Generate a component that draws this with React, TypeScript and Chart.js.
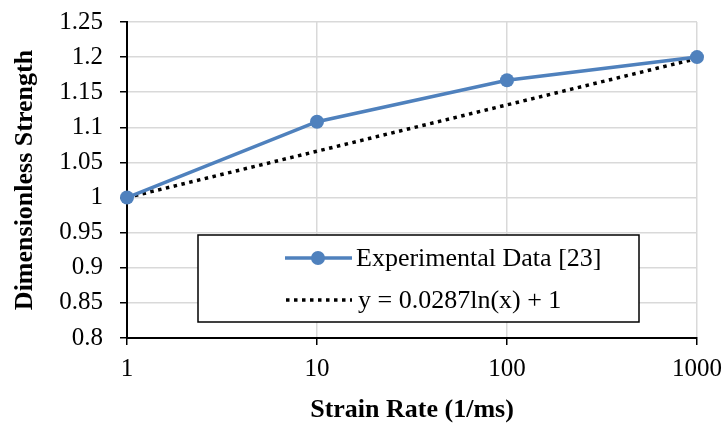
import React, { useEffect, useRef } from "react";
import { Chart, registerables } from "chart.js";

Chart.register(...registerables);

const strainRates = [1, 10, 100, 1000];
const experimental = [1.0, 1.108, 1.167, 1.2];
const trendValues = [1.0, 1.066, 1.132, 1.198];
const xTickValues = [1, 10, 100, 1000];
const expLabel = "Experimental Data [23]";
const trendLabel = "y = 0.0287ln(x) + 1";

const BLUE = "#4F81BD";
const SERIF = "'Liberation Serif', 'Times New Roman', serif";

const legendBoxPlugin = {
  id: "legendBox",
  afterDraw(chart: any) {
    const ctx = chart.ctx;
    ctx.save();
    const x0 = 198, y0 = 235, w = 441, h = 87;
    ctx.fillStyle = "#fff";
    ctx.fillRect(x0, y0, w, h);
    ctx.strokeStyle = "#000";
    ctx.lineWidth = 1.5;
    ctx.strokeRect(x0, y0, w, h);
    const ds = chart.data.datasets;
    // entry 1
    let y = 258;
    ctx.strokeStyle = ds[0].borderColor;
    ctx.lineWidth = ds[0].borderWidth;
    ctx.setLineDash([]);
    ctx.beginPath();
    ctx.moveTo(285, y);
    ctx.lineTo(352, y);
    ctx.stroke();
    ctx.fillStyle = ds[0].pointBackgroundColor;
    ctx.beginPath();
    ctx.arc(318, y, ds[0].pointRadius, 0, Math.PI * 2);
    ctx.fill();
    ctx.fillStyle = "#000";
    ctx.font = `26px ${SERIF}`;
    ctx.textBaseline = "middle";
    ctx.textAlign = "left";
    ctx.fillText(ds[0].label, 356, y + 1);
    // entry 2
    y = 300;
    ctx.strokeStyle = ds[1].borderColor;
    ctx.lineWidth = ds[1].borderWidth;
    ctx.setLineDash(ds[1].borderDash);
    ctx.beginPath();
    ctx.moveTo(286, y);
    ctx.lineTo(352, y);
    ctx.stroke();
    ctx.setLineDash([]);
    ctx.fillText(ds[1].label, 358, y + 1);
    ctx.restore();
  },
};

function zeroPadding(scale: any) {
  scale.paddingTop = 0;
  scale.paddingBottom = 0;
  scale.paddingLeft = 0;
  scale.paddingRight = 0;
}

export default function App() {
  const ref = useRef<HTMLCanvasElement>(null);
  useEffect(() => {
    document.body.style.margin = "0";
    const chart = new Chart(ref.current!, {
      type: "line",
      data: {
        datasets: [
          {
            label: expLabel,
            data: strainRates.map((x, i) => ({ x, y: experimental[i] })),
            borderColor: BLUE,
            backgroundColor: BLUE,
            pointBackgroundColor: BLUE,
            pointBorderColor: BLUE,
            borderWidth: 3.5,
            pointRadius: 7,
            pointBorderWidth: 0,
            tension: 0,
            order: 1,
            clip: false,
          },
          {
            label: trendLabel,
            data: strainRates.map((x, i) => ({ x, y: trendValues[i] })),
            borderColor: "#000",
            borderWidth: 3.5,
            borderDash: [3.5, 4.5],
            pointRadius: 0,
            tension: 0,
            order: 2,
          },
        ],
      },
      options: {
        animation: false,
        responsive: false,
        maintainAspectRatio: false,
        layout: { padding: { top: 22, right: 30, left: 0, bottom: 0 } },
        plugins: {
          legend: { display: false },
          tooltip: { enabled: false },
        },
        scales: {
          x: {
            type: "logarithmic",
            min: 1,
            max: 1000,
            afterBuildTicks(scale: any) {
              scale.ticks = xTickValues.map((v) => ({ value: v }));
            },
            afterFit(scale: any) {
              scale.height = 426 - 338;
              zeroPadding(scale);
            },
            ticks: {
              autoSkip: false,
              maxRotation: 0,
              padding: 9,
              color: "#000",
              font: { family: SERIF, size: 25 },
              callback: (v: any) => String(v),
            },
            grid: {
              color: "#d9d9d9",
              lineWidth: 1.5,
              tickColor: "#000",
              tickLength: 7,
            },
            border: { color: "#000", width: 2 },
            title: {
              display: true,
              text: "Strain Rate (1/ms)",
              color: "#000",
              font: { family: SERIF, size: 26, weight: "bold" },
              padding: { top: 6, bottom: 0 },
            },
          },
          y: {
            min: 0.8,
            max: 1.25,
            afterFit(scale: any) {
              scale.width = 127;
              zeroPadding(scale);
            },
            ticks: {
              stepSize: 0.05,
              padding: 17,
              color: "#000",
              font: { family: SERIF, size: 25 },
              callback: (v: any) => String(parseFloat(Number(v).toFixed(2))),
            },
            grid: {
              color: "#d9d9d9",
              lineWidth: 1.5,
              tickColor: "#000",
              tickLength: 7,
            },
            border: { color: "#000", width: 2 },
            title: {
              display: true,
              text: "Dimensionless Strength",
              color: "#000",
              font: { family: SERIF, size: 26, weight: "bold" },
              padding: { top: 10, bottom: 0 },
            },
          },
        },
      },
      plugins: [legendBoxPlugin],
    } as any);
    return () => chart.destroy();
  }, []);
  return (
    <div style={{ position: "absolute", left: 0, top: 0, width: 727, height: 426 }}>
      <canvas ref={ref} width={727} height={426} style={{ width: 727, height: 426 }} />
    </div>
  );
}
